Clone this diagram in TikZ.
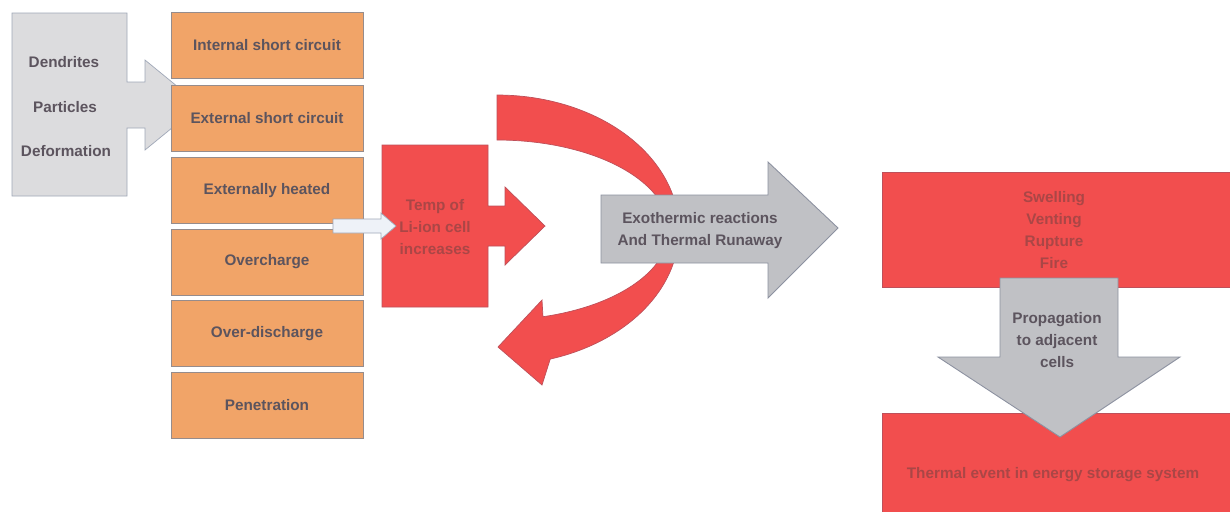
\documentclass[tikz,border=0pt]{standalone}
\usepackage{fontspec}
\setmainfont{Liberation Sans}
\tikzset{txt/.style = {font=\bfseries\fontsize{8.7}{12.5}\selectfont, text=tdark,
                       align=center, inner sep=0}}
\tikzset{causebox/.style = {draw=oline, fill=ofill, line width=0.5pt, txt,
                            minimum width=3.84cm, minimum height=1.32cm}}
\tikzset{redshape/.style = {draw=rline, fill=rfill, line width=0.4pt}}
\tikzset{grayshape/.style = {draw=gline, fill=gfill, line width=0.5pt}}
\definecolor{cfill}{RGB}{220,220,222}
\definecolor{cline}{RGB}{160,168,184}
\definecolor{ofill}{RGB}{241,164,104}
\definecolor{oline}{RGB}{150,140,140}
\definecolor{rfill}{RGB}{242,78,78}
\definecolor{rline}{RGB}{190,80,90}
\definecolor{gfill}{RGB}{192,193,197}
\definecolor{gline}{RGB}{140,145,160}
\definecolor{tdark}{RGB}{92,84,94}
\definecolor{tred}{RGB}{170,70,70}
\definecolor{wfill}{RGB}{238,242,248}

\begin{document}
\begin{tikzpicture}[x=0.02cm, y=-0.02cm]
      \clip (0,0) rectangle (1230,511);
      \fill [white] (0,0) rectangle (1230,511);

      % causes
      \draw [draw=cline, fill=cfill] (12,13) -- (127,13) -- (127,82) -- (145,82) -- (145,60)
        -- (200,105) -- (145,150) -- (145,128) -- (127,128) -- (127,196) -- (12,196) -- cycle;
      \node [txt] (dendrites) at (64,62) {Dendrites};
      \node [txt] (particles) at (65,107) {Particles};
      \node [txt] (deformation) at (66,151) {Deformation};

      \foreach \y/\cause [count=\i] in {45.5/Internal short circuit, 118.5/External short circuit,
          190.5/Externally heated, 262/Overcharge, 333.5/Over-discharge, 405/Penetration} {
        \node [causebox] (cause\i) at (267,\y) {\cause};
      }

      % temperature rise
      \draw [redshape] (382,145) -- (488,145) -- (488,206) -- (505,206) -- (505,187) -- (545,226)
        -- (505,265) -- (505,246) -- (488,246) -- (488,307) -- (382,307) -- cycle;
      \node [txt, text=tred] (temp) at (435,227) {Temp of\\Li-ion cell\\increases};

      \draw [draw=cline, fill=wfill] (333,219) -- (381,219) -- (381,213) -- (396,226)
        -- (381,239) -- (381,233) -- (333,233) -- cycle;

      \draw [redshape] plot [variable=\t, domain=90:-73, samples=60, smooth]
          ({497+182*cos(\t)}, {230-135*sin(\t)})
        -- (542,385) -- (498,347) -- (542,300)
        -- plot [variable=\t, domain=-74.5:90, samples=60, smooth]
          ({497+172*cos(\t)}, {230-90*sin(\t)}) -- cycle;

      \draw [grayshape] (601,195) -- (768,195) -- (768,162) -- (838,228) -- (768,298)
        -- (768,263) -- (601,263) -- cycle;
      \node [txt] (exo) at (700,231) {Exothermic reactions\\And Thermal Runaway};

      % consequences
      \draw [redshape] (882,172) rectangle (1240,287);
      \node [txt, text=tred] (effects) at (1054,230) {Swelling\\Venting\\Rupture\\Fire};
      \draw [redshape] (882,413) rectangle (1240,520);
      \node [txt, text=tred] (event) at (1053,475) {Thermal event in energy storage system};

      \draw [grayshape] (1000,278) -- (1118,278) -- (1118,357) -- (1180,357) -- (1060,437)
        -- (938,357) -- (1000,357) -- cycle;
      \node [txt] (prop) at (1057,340) {Propagation\\to adjacent\\cells};
    \end{tikzpicture}
\end{document}
